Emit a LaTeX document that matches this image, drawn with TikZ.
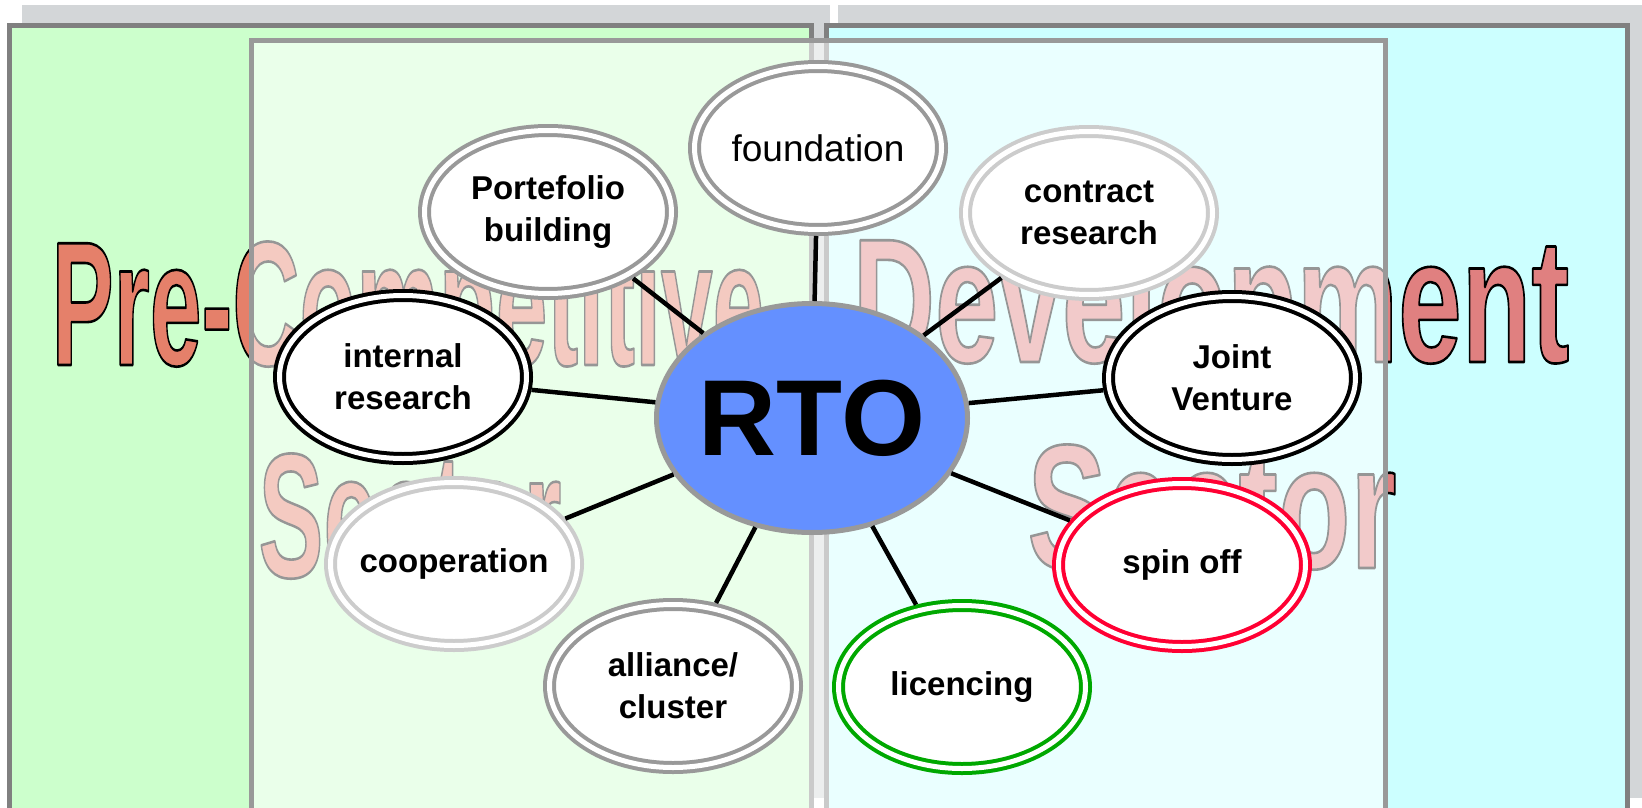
\documentclass[tikz,border=0pt]{standalone}
\usepackage{fontspec}
\setmainfont{Liberation Sans}
\usepackage{graphicx}
\usetikzlibrary{shapes.geometric}

\definecolor{ShadowGray}{HTML}{D3D6D8}
\definecolor{BoxGray}{HTML}{808080}
\definecolor{PreGreen}{HTML}{CCFFCC}
\definecolor{DevCyan}{HTML}{CCFFFF}
\definecolor{VeilGray}{HTML}{999999}
\definecolor{RtoBlue}{HTML}{6490FF}
\definecolor{PreSalmon}{HTML}{E5806A}
\definecolor{DevRose}{HTML}{E08080}
\definecolor{RingLight}{HTML}{CCCCCC}
\definecolor{RingRed}{HTML}{FF0033}
\definecolor{RingGreen}{HTML}{00A800}

% outlined, condensed word (fill + black stroke)
\newcommand{\sectorword}[2]{\scalebox{#1}[1]{\special{pdf:literal direct 0 G 2.6 w 1 j 2 Tr}#2\special{pdf:literal direct 0 Tr}}}

\begin{document}
\begin{tikzpicture}[
    x=1pt, y=-1pt,
    every edge/.style={draw, line width=4.5pt},
    ring/.style={ellipse, draw=#1, fill=white, line width=4pt, double=white, double distance=5pt,
        minimum width=247pt, minimum height=163pt, inner sep=0pt, outer sep=6.5pt},
    hub/.style={ellipse, draw=VeilGray, fill=RtoBlue, line width=5pt,
        minimum width=311pt, minimum height=229pt, inner sep=0pt},
    lbl/.style={font=\fontsize{33}{42}\selectfont\bfseries, align=center, inner sep=0pt},
    wordart/.style={font=\fontsize{177}{177}\selectfont\bfseries, inner sep=0pt, anchor=base}]

    \clip (0,0) rectangle (1642,808);
    \fill[white] (0,0) rectangle (1642,808);

    %%% Sector panels
    \fill[ShadowGray] (22,5) rectangle (830,798);
    \fill[ShadowGray] (838,5) rectangle (1660,798);
    \draw[BoxGray, line width=5pt, fill=PreGreen] (9.5,25.5) rectangle (811,830);
    \draw[BoxGray, line width=5pt, fill=DevCyan] (826.5,25.5) rectangle (1627,830);

    \node at (408,365)[wordart, text=PreSalmon] (preword) {\sectorword{0.525}{Pre-Competitive}};
    \node at (410,577)[wordart, text=PreSalmon] (presector) {\sectorword{0.55}{Sector}};
    \node at (1211,362)[wordart, text=DevRose] (devword) {\sectorword{0.645}{Development}};
    \node at (1212,568)[wordart, text=DevRose] (devsector) {\sectorword{0.67}{Sector}};

    \fill[white, fill opacity=0.59] (251.5,40.5) rectangle (1385.5,830);
    \draw[VeilGray, line width=5pt] (251.5,40.5) rectangle (1385.5,830);

    %%% RTO and its partners
    \node at (812,418)[hub, label={[lbl, font=\fontsize{108}{108}\selectfont\bfseries]center:RTO}] (rto) {};

    \node at (818,148)[ring=VeilGray, label={[lbl, font=\fontsize{37}{42}\selectfont]center:foundation}] (found) {};
    \node at (548,212)[ring=VeilGray, label={[lbl]center:Portefolio\\building}] (port) {};
    \node at (1089,213)[ring=RingLight, label={[lbl]center:contract\\research}] (contract) {};
    \node at (403,377)[ring=black, label={[lbl]center:internal\\research}] (internal) {};
    \node at (1232,378)[ring=black, label={[lbl]center:Joint\\Venture}] (joint) {};
    \node at (454,564)[ring=RingLight, label={[lbl]center:cooperation}] (coop) {};
    \node at (1182,565)[ring=RingRed, label={[lbl]center:spin off}] (spin) {};
    \node at (673,686)[ring=VeilGray, label={[lbl]center:alliance/\\cluster}] (alliance) {};
    \node at (962,687)[ring=RingGreen, label={[lbl]center:licencing}] (licence) {};

    %%% Relations between RTO and partners
    \path (rto) edge (found) edge (port) edge (contract) edge (internal) edge (joint)
                edge (coop) edge (spin) edge (alliance) edge (licence);

\end{tikzpicture}
\end{document}
